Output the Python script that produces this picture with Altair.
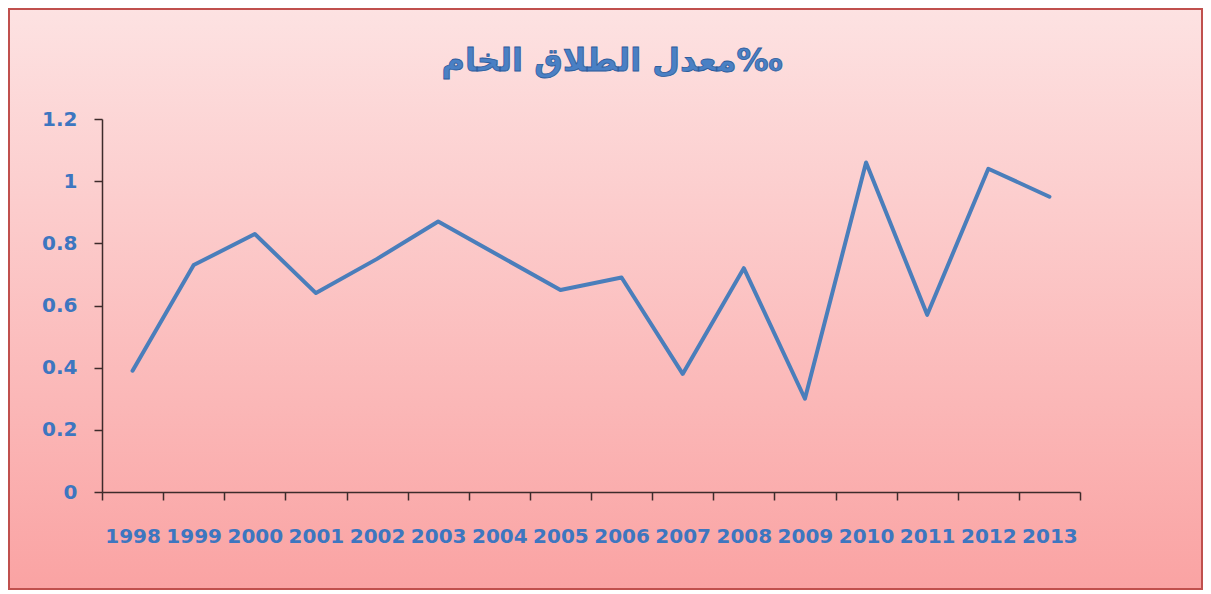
import altair as alt
import pandas as pd

years = [str(y) for y in range(1998, 2014)]
rates = [0.39, 0.73, 0.83, 0.64, 0.75, 0.87, 0.76, 0.65, 0.69, 0.38, 0.72, 0.30, 1.06, 0.57, 1.04, 0.95]
y_ticks = [0, 0.2, 0.4, 0.6, 0.8, 1.0, 1.2]
title_text = "معدل الطلاق الخام‰"

df = pd.DataFrame({"year": years, "rate": rates})

W, H = 978, 373
blue = "#3d76c0"
axis_col = "#3d2b2b"

bg = alt.Chart(pd.DataFrame({"bg": [0]})).mark_rect(
    fill=alt.Gradient(
        gradient="linear",
        stops=[alt.GradientStop(color="#fde2e2", offset=0),
               alt.GradientStop(color="#faa3a3", offset=1)],
        x1=0, x2=0, y1=0, y2=1,
    ),
    stroke="#c0504d",
    strokeWidth=2,
).encode(
    x=alt.value(-93), x2=alt.value(1100),
    y=alt.value(-110), y2=alt.value(470),
)

title = alt.Chart(pd.DataFrame({"t": [title_text]})).mark_text(
    font="DejaVu Sans", fontWeight="bold", fontSize=32,
    fill="#4a80c4", stroke="#2c5c9c", strokeWidth=0.8,
    align="center", baseline="middle",
).encode(text="t:N", x=alt.value(510), y=alt.value(-58))

label_style = dict(labelFont="DejaVu Sans", labelFontWeight="bold",
                   labelFontSize=20, labelColor=blue,
                   domainColor=axis_col, tickColor=axis_col,
                   domainWidth=1.5, tickWidth=1.5, zindex=1, title=None)

line = alt.Chart(df).mark_line(
    color="#4a7ebb", strokeWidth=4, strokeJoin="round", strokeCap="round"
).encode(
    x=alt.X("year:O", sort=years,
            scale=alt.Scale(type="band", paddingInner=0, paddingOuter=0),
            axis=alt.Axis(labelAngle=0, tickBand="extent",
                          tickSize=8, labelPadding=26, **label_style)),
    y=alt.Y("rate:Q", scale=alt.Scale(domain=[0, 1.2], nice=False, zero=True),
            axis=alt.Axis(values=y_ticks, format=".1~f", grid=False,
                          tickSize=8, labelPadding=17, **label_style)),
)

chart = alt.layer(bg, line, title).properties(
    width=W, height=H, padding=0
).configure_view(strokeWidth=0)

chart.save("out.html", embed_options={"renderer": "svg", "actions": False})
